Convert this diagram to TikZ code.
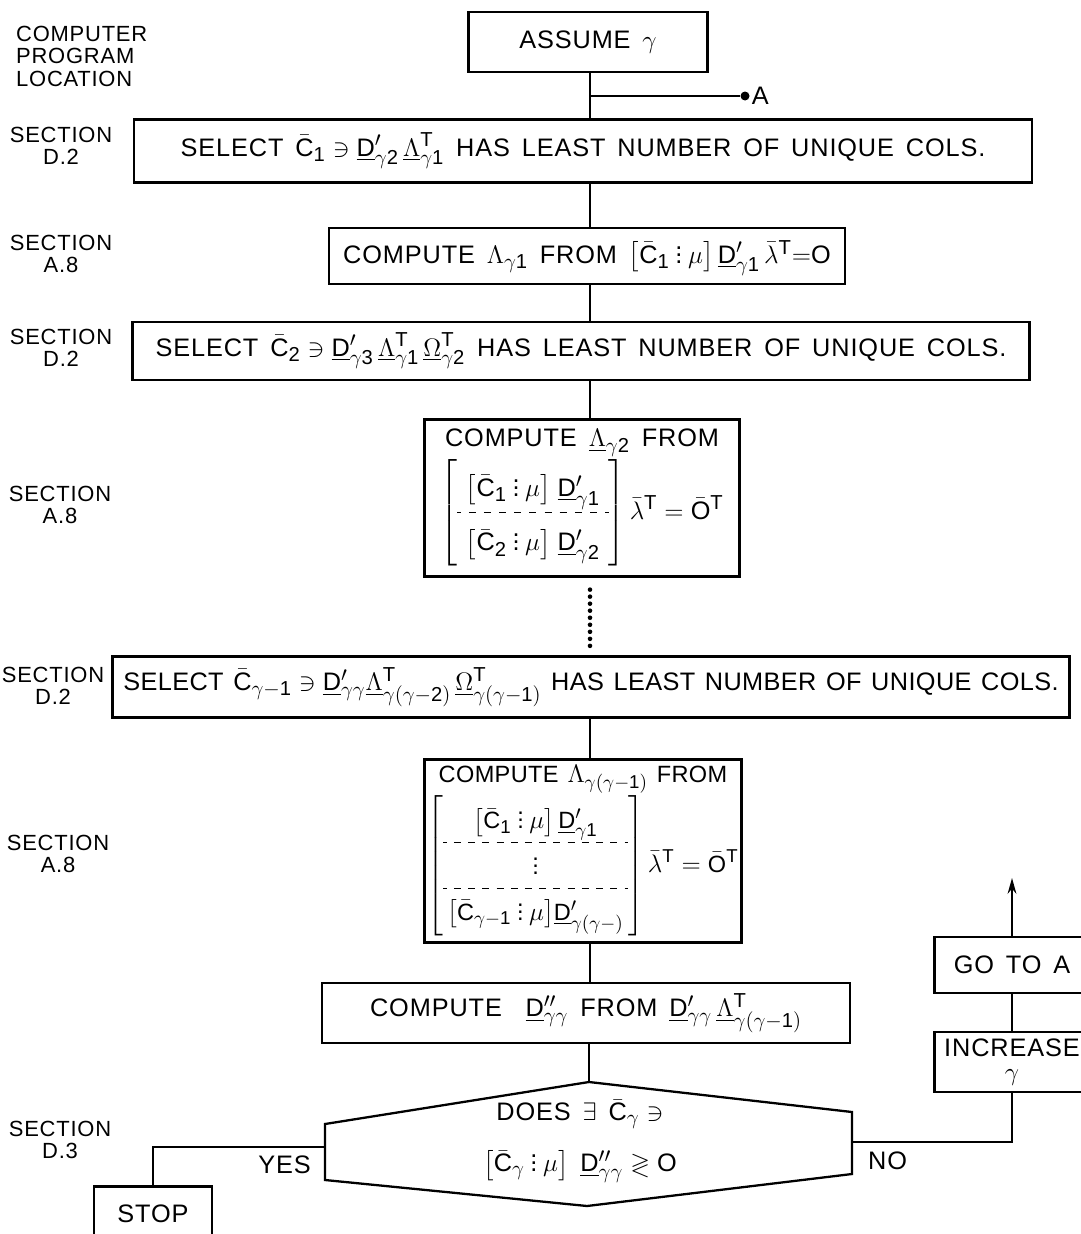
\documentclass[tikz,border=0pt]{standalone}
\usepackage{amsmath,amssymb}
\usepackage{arydshln}
\usepackage{fontspec}
\setmainfont{Liberation Sans}[LetterSpace=3.5,WordSpace=1.5]
\newfontfamily\tightletters{Liberation Sans}[LetterSpace=1.5,WordSpace=1.3]
\usepackage{tikz}
\usetikzlibrary{calc,arrows.meta}

\DeclareMathSizes{14.4}{14.4}{11.5}{9}
\DeclareMathSizes{13.4}{13.4}{10.6}{8.4}

\newcommand{\uD}{\underline{\mathrm{D}}}
\newcommand{\uLam}{\underline{\Lambda}}
\newcommand{\uOm}{\underline{\Omega}}
\newcommand{\Cb}{\bar{\mathrm{C}}}
\newcommand{\Tr}{\mathrm{T}}
\newcommand{\csep}{\mathbin{\vdots}}
\newcommand{\nr}[1]{\mathrm{#1}}

\begin{document}
\begin{tikzpicture}[x=0.02cm,y=-0.02cm,every node/.style={align=center},
  stepbox/.style={draw,line width=1.3pt,inner sep=3pt,font=\fontsize{14.4}{17}\selectfont},
  tightbox/.style={stepbox,inner sep=1pt,font={\tightletters\fontsize{14.4}{17}\selectfont}},
  sectlabel/.style={font=\fontsize{12.5}{12.8}\selectfont},
  flow/.style={line width=1.1pt}]
  \useasboundingbox (0,0) rectangle (1081,1234);
  \coordinate (spine) at (590,0);
  % program location column
  \node[sectlabel,align=left,anchor=west] (loc) at (10,56) {COMPUTER\\PROGRAM\\LOCATION};
  \node[sectlabel] (secA) at (61,146) {SECTION\\D.2};
  \node[sectlabel] (secB) at (61,254) {SECTION\\A.8};
  \node[sectlabel] (secC) at (61,348) {SECTION\\D.2};
  \node[sectlabel] (secD) at (60,505) {SECTION\\A.8};
  \node[sectlabel] (secE) at (53,686) {SECTION\\D.2};
  \node[sectlabel] (secF) at (58,854) {SECTION\\A.8};
  \node[sectlabel] (secG) at (60,1140) {SECTION\\D.3};
  % main flow
  \node[stepbox,minimum width=4.78cm,minimum height=1.2cm] (assume) at (588,42) {ASSUME $\gamma$};
  \node[stepbox,minimum width=17.96cm,minimum height=1.26cm] (sel1) at (583,151) {SELECT $\Cb_{\nr{1}} \ni \uD'_{\gamma\nr{2}}\,\uLam^{\Tr}_{\gamma\nr{1}}$ HAS LEAST NUMBER OF UNIQUE COLS.};
  \node[stepbox,minimum width=10.32cm,minimum height=1.12cm] (comp1) at (587,256) {COMPUTE $\Lambda_{\gamma\nr{1}}$ FROM $\bigl[\Cb_{\nr{1}} \csep \mu\bigr]\,\uD'_{\gamma\nr{1}}\,\bar{\lambda}^{\Tr} {=} \mathrm{O}$};
  \node[stepbox,minimum width=17.94cm,minimum height=1.16cm] (sel2) at (581,351) {SELECT $\Cb_{\nr{2}} \ni \uD'_{\gamma\nr{3}}\,\uLam^{\Tr}_{\gamma\nr{1}}\,\uOm^{\Tr}_{\gamma\nr{2}}$ HAS LEAST NUMBER OF UNIQUE COLS.};
  \node[stepbox,minimum width=6.3cm,minimum height=3.14cm] (comp2) at (582,498) {COMPUTE $\uLam_{\gamma\nr{2}}$ FROM\\
    $\renewcommand{\arraystretch}{1.8}\left[\begin{array}{c} \bigl[\Cb_{\nr{1}} \csep \mu\bigr]\;\uD'_{\gamma\nr{1}}\\ \hdashline \bigl[\Cb_{\nr{2}} \csep \mu\bigr]\;\uD'_{\gamma\nr{2}}\end{array}\right]\bar{\lambda}^{\Tr} = \bar{\mathrm{O}}^{\Tr}$};
  \node[tightbox,minimum width=19.14cm,minimum height=1.22cm] (sel3) at (591,687) {SELECT $\Cb_{\gamma-\nr{1}} \ni \uD'_{\gamma\gamma}\uLam^{\Tr}_{\gamma(\gamma-\nr{2})}\,\uOm^{\Tr}_{\gamma(\gamma-\nr{1})}$ HAS LEAST NUMBER OF UNIQUE COLS.};
  \node[tightbox,font={\tightletters\fontsize{13.4}{16}\selectfont},minimum width=6.34cm,minimum height=3.66cm] (comp3) at (583,851) {COMPUTE $\Lambda_{\gamma(\gamma-\nr{1})}$ FROM\\
    $\renewcommand{\arraystretch}{1.6}\left[\begin{array}{@{\,}c@{\,}} \bigl[\Cb_{\nr{1}} \csep \mu\bigr]\,\uD'_{\gamma\nr{1}}\\ \hdashline \vdots\\ \hdashline \bigl[\Cb_{\gamma-\nr{1}} \csep \mu\bigr]\uD'_{\gamma(\gamma-)}\end{array}\right]\bar{\lambda}^{\Tr} = \bar{\mathrm{O}}^{\Tr}$};
  \node[stepbox,minimum width=10.56cm,minimum height=1.2cm] (dcomp) at (586,1013) {COMPUTE \ $\uD''_{\gamma\gamma}$ FROM $\uD'_{\gamma\gamma}\,\uLam^{\Tr}_{\gamma(\gamma-\nr{1})}$};
  % decision
  \coordinate (dtop) at (589,1082);
  \coordinate (dne) at (852,1112);
  \coordinate (dse) at (852,1174);
  \coordinate (dbot) at (587,1206);
  \coordinate (dsw) at (325,1180);
  \coordinate (dnw) at (325,1124);
  \draw[line width=1.3pt] (dtop) -- (dne) -- (dse) -- (dbot) -- (dsw) -- (dnw) -- cycle;
  \node[font=\fontsize{14.4}{17}\selectfont] (dec) at (580,1141) {DOES $\exists\ \Cb_{\gamma} \ni$\\[8pt] $\bigl[\Cb_{\gamma} \csep \mu\bigr]\ \uD''_{\gamma\gamma} \gtrless \mathrm{O}$};
  \coordinate (yesp) at (325,1147);
  \coordinate (nop) at (852,1142);
  \node[stepbox,minimum width=2.36cm,minimum height=1.1cm] (stop) at (153,1214) {STOP};
  \node[stepbox,minimum width=3.1cm,minimum height=1.2cm] (incr) at (1012,1062) {INCREASE\\[-3pt]$\gamma$};
  \node[stepbox,minimum width=3.1cm,minimum height=1.12cm] (goto) at (1012,965) {GO TO A};
  \node[font=\fontsize{14.4}{17}\selectfont,anchor=north east] (yes) at ($(yesp)+(-8,3)$) {YES};
  \node[font=\fontsize{14.4}{17}\selectfont,anchor=north west] (no) at ($(nop)+(10,4)$) {NO};
  \node[circle,fill,inner sep=0pt,minimum size=0.18cm] (adot) at (745,96) {};
  \node[font=\fontsize{14.4}{17}\selectfont,anchor=west,inner sep=1pt] (alab) at (adot.east) {A};
  \coordinate (abranch) at (590,96);
  \coordinate (back) at (1012,878);
  % connectors
  \draw[flow] (assume.south -| spine) -- (sel1.north -| spine);
  \draw[flow] (abranch) -- (adot);
  \draw[flow] (sel1.south -| spine) -- (comp1.north -| spine);
  \draw[flow] (comp1.south -| spine) -- (sel2.north -| spine);
  \draw[flow] (sel2.south -| spine) -- (comp2.north -| spine);
  \draw[line width=2.6pt,line cap=round,dash pattern=on 0pt off 4pt] ($(comp2.south -| spine)+(0,12)$) -- ($(sel3.north -| spine)+(0,-6)$);
  \draw[flow] (sel3.south -| spine) -- (comp3.north -| spine);
  \draw[flow] (comp3.south -| spine) -- (dcomp.north -| spine);
  \draw[flow] (dcomp.south -| dtop) -- (dtop);
  \draw[flow] (yesp) -| (stop.north);
  \draw[flow] (nop) -| (incr.south);
  \draw[flow] (incr.north) -- (goto.south);
  \draw[flow,-{Stealth[length=9pt,width=5pt]}] (goto.north) -- (back);
\end{tikzpicture}
\end{document}
